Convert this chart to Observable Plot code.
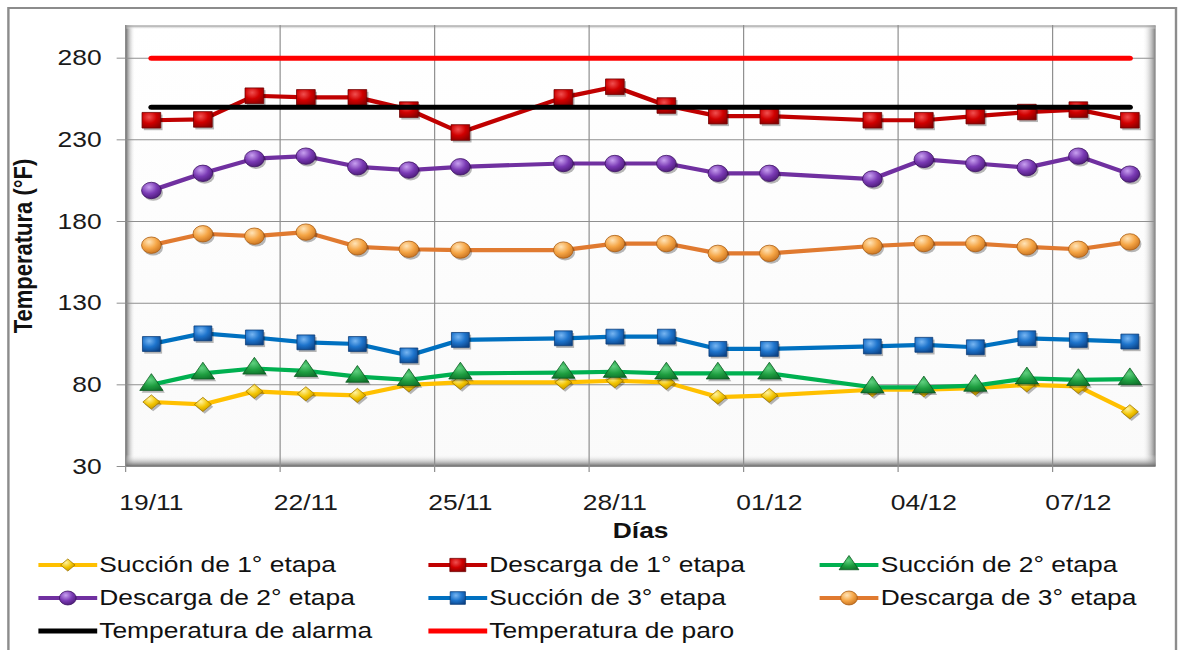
<!DOCTYPE html>
<html>
<head>
<meta charset="utf-8">
<script src="https://cdn.jsdelivr.net/npm/d3@7"></script>
<script src="https://cdn.jsdelivr.net/npm/@observablehq/plot@0.6"></script>
<style>
  html, body { margin: 0; padding: 0; background: #ffffff; overflow: hidden; }
  body { width: 1181px; height: 650px; position: relative; font-family: "Liberation Sans", Arial, sans-serif; }
  #stretch { position: absolute; left: 0; top: 0; width: 984px; height: 700px; transform: scaleX(1.2); transform-origin: 0 0; }
  #box { position: absolute; left: 6px; top: 7px; width: 975px; height: 700px; border: 2px solid #8c8c8c; box-sizing: border-box; }
  #chart { position: absolute; left: 0; top: 0; }
  #legend { position: absolute; left: 0; top: 545px; width: 984px; height: 120px; }
  .item { position: absolute; display: flex; align-items: center; height: 26px; font-size: 22px; color: #111; white-space: nowrap; }
  .item svg { display: block; margin-right: 2px; overflow: visible; }
</style>
</head>
<body>
<svg width="0" height="0" style="position:absolute">
  <defs>
    <linearGradient id="gFondo" x1="0" y1="0" x2="0" y2="1"><stop offset="0" stop-color="#ffffff"/><stop offset="1" stop-color="#fafafa"/></linearGradient>
    <linearGradient id="gSombraIzq" x1="0" y1="0" x2="1" y2="0"><stop offset="0" stop-color="#6a6a6a"/><stop offset="1" stop-color="#ffffff" stop-opacity="0"/></linearGradient>
    <linearGradient id="gSombraDer" x1="0" y1="0" x2="1" y2="0"><stop offset="0" stop-color="#ffffff" stop-opacity="0"/><stop offset="1" stop-color="#7a7a7a"/></linearGradient>
    <linearGradient id="gSombraInf" x1="0" y1="0" x2="0" y2="1"><stop offset="0" stop-color="#ffffff" stop-opacity="0"/><stop offset="1" stop-color="#666666"/></linearGradient>
    <linearGradient id="gSombraSup" x1="0" y1="0" x2="0" y2="1"><stop offset="0" stop-color="#8a8a8a"/><stop offset="1" stop-color="#ffffff" stop-opacity="0"/></linearGradient>
    <radialGradient id="mAmarillo" cx="0.38" cy="0.3" r="0.8"><stop offset="0" stop-color="#fff3a0"/><stop offset="0.5" stop-color="#f2c400"/><stop offset="1" stop-color="#b88a00"/></radialGradient>
    <radialGradient id="mRojo" cx="0.38" cy="0.3" r="0.8"><stop offset="0" stop-color="#f05050"/><stop offset="0.5" stop-color="#d00000"/><stop offset="1" stop-color="#880000"/></radialGradient>
    <radialGradient id="mVerde" cx="0.45" cy="0.35" r="0.8"><stop offset="0" stop-color="#60d080"/><stop offset="0.5" stop-color="#1e9e40"/><stop offset="1" stop-color="#0c6626"/></radialGradient>
    <radialGradient id="mMorado" cx="0.38" cy="0.3" r="0.8"><stop offset="0" stop-color="#c8a0f0"/><stop offset="0.5" stop-color="#7a3ab4"/><stop offset="1" stop-color="#44166e"/></radialGradient>
    <radialGradient id="mAzul" cx="0.38" cy="0.3" r="0.8"><stop offset="0" stop-color="#78b6f2"/><stop offset="0.5" stop-color="#1e74cc"/><stop offset="1" stop-color="#0c4488"/></radialGradient>
    <radialGradient id="mNaranja" cx="0.38" cy="0.3" r="0.8"><stop offset="0" stop-color="#ffe4b8"/><stop offset="0.5" stop-color="#f5a545"/><stop offset="1" stop-color="#c06a1a"/></radialGradient>
  </defs>
</svg>
<div id="stretch">
  <div id="box"></div>
  <div id="chart"></div>
  <div id="legend"></div>
</div>
<script>
// ---------- Datos ----------
const dias = ["19/11","20/11","21/11","22/11","23/11","24/11","25/11","27/11","28/11","29/11","30/11","01/12","03/12","04/12","05/12","06/12","07/12","08/12"];
const succion1 = [69.5, 68, 76, 74.5, 73.5, 80, 81.5, 81.5, 82.5, 81.5, 72.5, 73.5, 77, 77, 78, 80, 79, 63.5];
const descarga1 = [242, 242.5, 257, 256, 256, 248.5, 234.5, 256, 262.5, 251, 244.5, 244.5, 242, 242, 244.5, 247, 248.5, 242];
const succion2 = [80, 87, 90, 88.5, 85, 83, 87, 87.5, 88, 87, 87, 87, 78.5, 78.5, 79.5, 84, 83, 83.5];
const descarga2 = [199, 209.5, 218.5, 220, 213.5, 211.5, 213.5, 215.5, 215.5, 215.5, 209.5, 209.5, 206, 218, 215.5, 213, 220, 209];
const succion3 = [105, 111.5, 109, 106, 105, 98, 107.5, 108.5, 109.5, 109.5, 102, 102, 103.5, 104.5, 103, 108.5, 107.5, 106.5];
const descarga3 = [165.5, 172.5, 171, 173.5, 164.5, 163, 162.5, 162.5, 166.5, 166.5, 160.5, 160.5, 165, 166.5, 166.5, 164.5, 163, 167.5];
const temperaturaAlarma = 250;
const temperaturaParo = 280;
const etiquetasX = ["19/11","22/11","25/11","28/11","01/12","04/12","07/12"];
const ticksY = [30, 80, 130, 180, 230, 280];
const dominioY = [30, 300];
const nombres = ["Succión de 1° etapa","Descarga de 1° etapa","Succión de 2° etapa","Descarga de 2° etapa","Succión de 3° etapa","Descarga de 3° etapa","Temperatura de alarma","Temperatura de paro"];

// ---------- Estilos ----------
const estilos = [
  {valores: succion1, linea: "#ffc000", relleno: "url(#mAmarillo)", borde: "#a07800", simbolo: "diamond2", r: 6.4},
  {valores: descarga1, linea: "#c00000", relleno: "url(#mRojo)", borde: "#700000", simbolo: "square", r: 8.8},
  {valores: succion2, linea: "#00b050", relleno: "url(#mVerde)", borde: "#0a5a20", simbolo: "triangle", r: 7.2},
  {valores: descarga2, linea: "#7030a0", relleno: "url(#mMorado)", borde: "#3a1060", simbolo: "circle", r: 8.2},
  {valores: succion3, linea: "#0070c0", relleno: "url(#mAzul)", borde: "#0a3c78", simbolo: "square", r: 8.4},
  {valores: descarga3, linea: "#e07a30", relleno: "url(#mNaranja)", borde: "#a85a10", simbolo: "circle", r: 8.2},
  {valores: dias.map(() => temperaturaAlarma), linea: "#000000", simbolo: null},
  {valores: dias.map(() => temperaturaParo), linea: "#ff0000", simbolo: null}
];

const anio = 2011;
const parseDia = s => { const [d, m] = s.split("/").map(Number); return new Date(Date.UTC(anio, m - 1, d)); };
const fechas = dias.map(parseDia);
const fmt = d3.utcFormat("%d/%m");
const medioDia = d => d3.utcHour.offset(d, -12);
const etiquetas = etiquetasX.map(parseDia);
const limites = etiquetas.map(medioDia);
const dominioX = [medioDia(fechas[0]), d3.utcHour.offset(fechas[fechas.length - 1], 12)];

// ---------- Geometría ----------
const W = 984, H = 545, mL = 104.2, mR = 21.5, mT = 25, mB = 79;
const pw = W - mL - mR, ph = H - mT - mB;

const marcasSeries = [];
estilos.forEach((s, k) => {
  const filas = fechas.map((f, i) => ({fecha: f, valor: s.valores[i], serie: nombres[k]}));
  const refLinea = s.simbolo === null;
  marcasSeries.push(Plot.line(filas, {x: "fecha", y: "valor", stroke: s.linea, strokeWidth: refLinea ? 5 : 4.2, strokeLinejoin: "round", strokeLinecap: "round"}));
  if (!refLinea) {
    marcasSeries.push(Plot.dot(filas, {x: "fecha", y: "valor", symbol: () => s.simbolo, r: s.r, fill: "#000", fillOpacity: 0.28, stroke: "none", dx: 1.5, dy: 2.2}));
    marcasSeries.push(Plot.dot(filas, {x: "fecha", y: "valor", symbol: () => s.simbolo, r: s.r, fill: s.relleno, stroke: s.borde, strokeWidth: 0.7}));
  }
});

const chart = Plot.plot({
  width: W, height: H,
  marginLeft: mL, marginRight: mR, marginTop: mT, marginBottom: mB,
  style: {fontFamily: "'Liberation Sans', Arial, sans-serif", fontSize: "22px", color: "#1a1a1a", background: "transparent", overflow: "visible"},
  x: {type: "utc", domain: dominioX},
  y: {domain: dominioY},
  symbol: {type: "identity"},
  marks: [
    Plot.frame({fill: "url(#gFondo)"}),
    Plot.frame({fill: "url(#gSombraIzq)", insetRight: pw - 8}),
    Plot.frame({fill: "url(#gSombraDer)", insetLeft: pw - 11}),
    Plot.frame({fill: "url(#gSombraInf)", insetTop: ph - 12}),
    Plot.frame({fill: "url(#gSombraSup)", insetBottom: ph - 4}),
    Plot.gridY(ticksY.slice(1), {stroke: "#8f8f8f", strokeOpacity: 1, strokeWidth: 1}),
    Plot.gridX(limites.slice(1), {stroke: "#8f8f8f", strokeOpacity: 1, strokeWidth: 1}),
    Plot.ruleY([dominioY[0]], {stroke: "#8a8a8a", strokeWidth: 1}),
    Plot.ruleX([dominioX[0]], {stroke: "#8a8a8a", strokeWidth: 1}),
    Plot.axisY(ticksY, {tickSize: 7, tickPadding: 13, stroke: "#8f8f8f", fill: "#1a1a1a", label: null, fontSize: 22}),
    Plot.axisX(limites, {tickSize: 6, tickFormat: () => "", stroke: "#8f8f8f", label: null}),
    Plot.axisX(etiquetas, {tickSize: 0, tickPadding: 28, tickFormat: fmt, fill: "#1a1a1a", label: null, fontSize: 22}),
    ...marcasSeries,
    Plot.text(["Días"], {text: d => d, frameAnchor: "bottom", textAnchor: "middle", dy: 71, fontWeight: "bold", fontSize: 22, fill: "#111"}),
    Plot.text(["Temperatura (°F)"], {text: d => d, frameAnchor: "left", textAnchor: "middle", rotate: -90, dx: -85, fontWeight: "bold", fontSize: 22, fill: "#111"})
  ]
});
document.getElementById("chart").appendChild(chart);

// ---------- Leyenda ----------
const leyenda = document.getElementById("legend");
const columnas = [31.7, 356.7, 683];
const filasY = [20, 53, 86];
const tiposD3 = {circle: d3.symbolCircle, square: d3.symbolSquare, triangle: d3.symbolTriangle, diamond2: d3.symbolDiamond2};
estilos.forEach((s, k) => {
  const item = document.createElement("div");
  item.className = "item";
  item.style.left = columnas[k % 3] + "px";
  item.style.top = (filasY[Math.floor(k / 3)] - 13) + "px";
  const svg = d3.create("svg").attr("width", 49).attr("height", 22);
  svg.append("line").attr("x1", 0).attr("x2", 49).attr("y1", 11).attr("y2", 11)
    .attr("stroke", s.linea).attr("stroke-width", s.simbolo ? 4.2 : 5);
  if (s.simbolo) {
    const rr = s.r * 0.85;
    svg.append("path").attr("transform", "translate(24.5,11)")
      .attr("d", d3.symbol(tiposD3[s.simbolo], Math.PI * rr * rr)())
      .attr("fill", s.relleno).attr("stroke", s.borde).attr("stroke-width", 0.7);
  }
  item.appendChild(svg.node());
  const t = document.createElement("span");
  t.textContent = nombres[k];
  item.appendChild(t);
  leyenda.appendChild(item);
});
</script>
</body>
</html>
